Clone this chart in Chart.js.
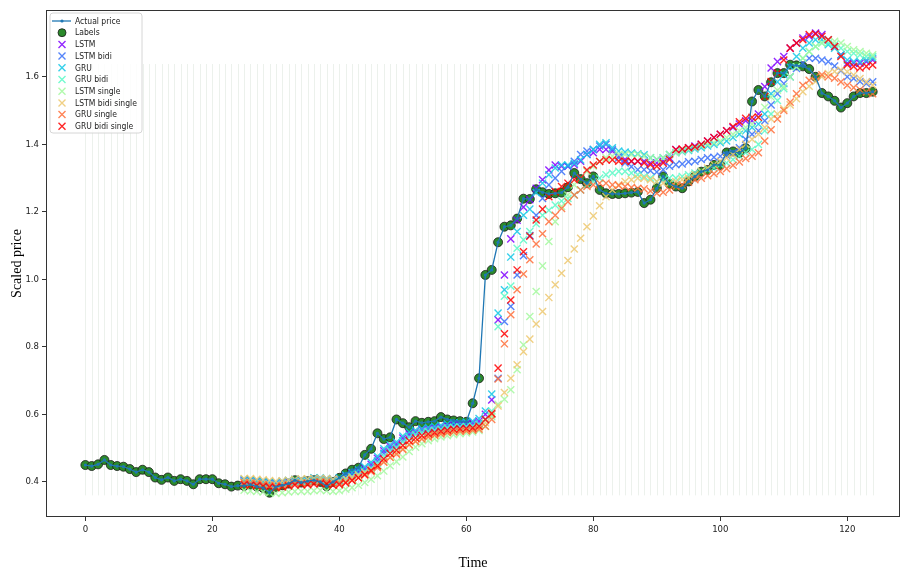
<!DOCTYPE html>
<html>
<head>
<meta charset="utf-8">
<script src="https://cdn.jsdelivr.net/npm/chart.js@4/dist/chart.umd.min.js"></script>
<style>
  html, body { margin: 0; padding: 0; background: #ffffff; overflow: hidden; }
  #wrap { width: 902px; height: 569px; }
  canvas { display: block; }
</style>
</head>
<body>
<div id="wrap"><canvas id="c" width="902" height="569"></canvas></div>
<script>
// ---------------- DATA ----------------
const ACTUAL_START = 0;
const PRED_START = 25;

const seriesNames = ["Actual price", "Labels", "LSTM", "LSTM bidi", "GRU", "GRU bidi",
  "LSTM single", "LSTM bidi single", "GRU single", "GRU bidi single"];

const xTicks = [0, 20, 40, 60, 80, 100, 120];
const yTicks = [0.4, 0.6, 0.8, 1.0, 1.2, 1.4, 1.6];

// actual price, t = 0..124
const actualPrice = [
  0.450, 0.447, 0.452, 0.465, 0.450, 0.447, 0.445, 0.438, 0.429, 0.436,
  0.429, 0.413, 0.406, 0.413, 0.403, 0.408, 0.403, 0.393, 0.408, 0.408,
  0.408, 0.396, 0.393, 0.386, 0.389,
  0.388, 0.392, 0.386, 0.382, 0.368, 0.385, 0.390, 0.395, 0.405, 0.398,
  0.402, 0.405, 0.400, 0.387, 0.400, 0.412,
  0.425, 0.436, 0.442, 0.480, 0.498, 0.544, 0.527, 0.532, 0.585, 0.574,
  0.562, 0.580, 0.575, 0.578, 0.580, 0.592, 0.585, 0.582, 0.580, 0.578,
  0.633, 0.707,
  1.013, 1.028, 1.110, 1.156, 1.160, 1.180, 1.239, 1.238, 1.267, 1.258,
  1.253, 1.255, 1.257, 1.273, 1.315, 1.297, 1.285, 1.305,
  1.265, 1.255, 1.253, 1.253, 1.255, 1.257, 1.259, 1.226, 1.236, 1.270,
  1.305, 1.283, 1.275, 1.270, 1.290, 1.305, 1.319, 1.324, 1.339, 1.339,
  1.376, 1.379, 1.374, 1.389, 1.527, 1.561,
  1.542, 1.584, 1.611, 1.611, 1.636, 1.634, 1.631, 1.623, 1.600, 1.552,
  1.542, 1.529, 1.509, 1.522, 1.542, 1.552, 1.552, 1.556
];

// predictions, t = 25..124
const lstm = [
  0.405, 0.405, 0.403, 0.400, 0.398, 0.396, 0.400, 0.402, 0.405, 0.405,
  0.405, 0.410, 0.410, 0.408, 0.405, 0.410, 0.418, 0.425, 0.432, 0.440,
  0.452, 0.470, 0.492, 0.505, 0.512, 0.530, 0.542, 0.548, 0.555, 0.558,
  0.560, 0.563, 0.568, 0.570, 0.570, 0.572, 0.575, 0.580, 0.600, 0.643,
  0.880, 1.013, 1.120, 1.175, 1.214, 1.236, 1.270, 1.295, 1.324, 1.339,
  1.335, 1.335, 1.340, 1.350, 1.370, 1.375, 1.385, 1.385, 1.380, 1.365,
  1.355, 1.350, 1.350, 1.350, 1.345, 1.345, 1.350, 1.360, 1.385, 1.385,
  1.390, 1.395, 1.400, 1.410, 1.420, 1.430, 1.440, 1.450, 1.460, 1.470,
  1.470, 1.490, 1.571, 1.626, 1.645, 1.660, 1.685, 1.700, 1.715, 1.720,
  1.730, 1.725, 1.710, 1.690, 1.665, 1.640, 1.640, 1.640, 1.645, 1.650
];
const lstmBidi = [
  0.402, 0.400, 0.398, 0.396, 0.393, 0.390, 0.394, 0.397, 0.400, 0.400,
  0.402, 0.405, 0.406, 0.404, 0.400, 0.404, 0.410, 0.418, 0.426, 0.434,
  0.445, 0.462, 0.485, 0.498, 0.506, 0.522, 0.535, 0.542, 0.548, 0.552,
  0.555, 0.558, 0.562, 0.565, 0.565, 0.566, 0.568, 0.572, 0.585, 0.600,
  0.707, 0.875, 0.920, 1.013, 1.070, 1.130, 1.190, 1.240, 1.280, 1.300,
  1.320, 1.335, 1.350, 1.370, 1.380, 1.385, 1.395, 1.400, 1.385, 1.360,
  1.345, 1.334, 1.325, 1.325, 1.322, 1.318, 1.325, 1.335, 1.340, 1.342,
  1.348, 1.350, 1.355, 1.360, 1.362, 1.365, 1.368, 1.375, 1.390, 1.415,
  1.430, 1.440, 1.470, 1.517, 1.550, 1.580, 1.600, 1.625, 1.640, 1.655,
  1.655, 1.650, 1.645, 1.632, 1.618, 1.600, 1.595, 1.586, 1.580, 1.585
];
const gru = [
  0.408, 0.406, 0.404, 0.402, 0.400, 0.398, 0.402, 0.405, 0.408, 0.408,
  0.408, 0.412, 0.412, 0.410, 0.408, 0.412, 0.420, 0.428, 0.436, 0.445,
  0.458, 0.476, 0.498, 0.510, 0.518, 0.536, 0.548, 0.553, 0.558, 0.562,
  0.565, 0.568, 0.572, 0.575, 0.575, 0.577, 0.580, 0.588, 0.610, 0.660,
  0.900, 0.969, 1.066, 1.142, 1.190, 1.208, 1.257, 1.285, 1.310, 1.330,
  1.339, 1.339, 1.344, 1.354, 1.370, 1.385, 1.400, 1.405, 1.390, 1.380,
  1.377, 1.374, 1.372, 1.369, 1.360, 1.355, 1.360, 1.370, 1.375, 1.378,
  1.382, 1.386, 1.390, 1.395, 1.400, 1.405, 1.410, 1.420, 1.430, 1.440,
  1.450, 1.460, 1.490, 1.550, 1.585, 1.606, 1.630, 1.660, 1.685, 1.700,
  1.710, 1.710, 1.695, 1.685, 1.665, 1.650, 1.645, 1.645, 1.650, 1.655
];
const gruBidi = [
  0.400, 0.399, 0.397, 0.395, 0.392, 0.390, 0.393, 0.396, 0.400, 0.401,
  0.401, 0.404, 0.405, 0.403, 0.400, 0.402, 0.408, 0.415, 0.422, 0.430,
  0.440, 0.455, 0.476, 0.492, 0.502, 0.518, 0.532, 0.540, 0.546, 0.550,
  0.553, 0.556, 0.560, 0.562, 0.563, 0.564, 0.565, 0.570, 0.585, 0.610,
  0.860, 0.950, 0.980, 1.092, 1.117, 1.142, 1.165, 1.190, 1.205, 1.220,
  1.232, 1.240, 1.250, 1.265, 1.280, 1.290, 1.300, 1.310, 1.315, 1.320,
  1.320, 1.315, 1.310, 1.305, 1.300, 1.290, 1.295, 1.300, 1.300, 1.305,
  1.310, 1.315, 1.320, 1.325, 1.330, 1.340, 1.345, 1.355, 1.365, 1.375,
  1.385, 1.400, 1.440, 1.490, 1.530, 1.565, 1.600, 1.630, 1.655, 1.675,
  1.690, 1.700, 1.700, 1.695, 1.685, 1.675, 1.670, 1.665, 1.660, 1.660
];
const lstmSingle = [
  0.375, 0.373, 0.372, 0.370, 0.368, 0.366, 0.368, 0.370, 0.372, 0.372,
  0.372, 0.374, 0.375, 0.374, 0.372, 0.374, 0.378, 0.383, 0.390, 0.398,
  0.408, 0.418, 0.432, 0.448, 0.460, 0.474, 0.490, 0.503, 0.513, 0.522,
  0.528, 0.533, 0.537, 0.540, 0.543, 0.545, 0.548, 0.552, 0.565, 0.593,
  0.630, 0.645, 0.673, 0.732, 0.806, 0.890, 0.964, 1.040, 1.112, 1.171,
  1.216, 1.250, 1.280, 1.300, 1.320, 1.335, 1.350, 1.360, 1.365, 1.370,
  1.370, 1.370, 1.370, 1.365, 1.360, 1.355, 1.360, 1.370, 1.375, 1.380,
  1.385, 1.390, 1.395, 1.400, 1.405, 1.410, 1.420, 1.430, 1.440, 1.450,
  1.460, 1.480, 1.510, 1.540, 1.560, 1.571, 1.600, 1.630, 1.655, 1.675,
  1.690, 1.700, 1.710, 1.705, 1.700, 1.690, 1.680, 1.675, 1.670, 1.665
];
const lstmBidiSingle = [
  0.410, 0.410, 0.408, 0.406, 0.404, 0.402, 0.403, 0.405, 0.408, 0.409,
  0.409, 0.410, 0.411, 0.410, 0.408, 0.408, 0.410, 0.414, 0.420, 0.428,
  0.436, 0.446, 0.460, 0.474, 0.486, 0.498, 0.510, 0.520, 0.528, 0.535,
  0.540, 0.545, 0.548, 0.550, 0.552, 0.553, 0.555, 0.560, 0.575, 0.600,
  0.625, 0.665, 0.707, 0.747, 0.786, 0.823, 0.868, 0.905, 0.946, 0.984,
  1.018, 1.056, 1.090, 1.122, 1.156, 1.188, 1.218, 1.245, 1.265, 1.280,
  1.290, 1.295, 1.300, 1.300, 1.295, 1.290, 1.285, 1.285, 1.290, 1.295,
  1.300, 1.310, 1.320, 1.330, 1.340, 1.350, 1.360, 1.370, 1.385, 1.400,
  1.415, 1.430, 1.450, 1.475, 1.490, 1.505, 1.517, 1.535, 1.556, 1.572,
  1.586, 1.600, 1.610, 1.616, 1.620, 1.615, 1.605, 1.595, 1.585, 1.575
];
const gruSingle = [
  0.398, 0.397, 0.395, 0.393, 0.390, 0.388, 0.390, 0.393, 0.396, 0.397,
  0.397, 0.400, 0.401, 0.400, 0.396, 0.397, 0.400, 0.406, 0.412, 0.420,
  0.430, 0.442, 0.458, 0.472, 0.482, 0.496, 0.510, 0.520, 0.527, 0.533,
  0.538, 0.542, 0.546, 0.548, 0.550, 0.551, 0.553, 0.556, 0.565, 0.585,
  0.705, 0.809, 0.895, 0.969, 1.016, 1.058, 1.105, 1.135, 1.171, 1.190,
  1.210, 1.230, 1.250, 1.265, 1.275, 1.280, 1.285, 1.285, 1.280, 1.278,
  1.275, 1.272, 1.270, 1.268, 1.262, 1.255, 1.258, 1.265, 1.275, 1.280,
  1.288, 1.295, 1.300, 1.307, 1.313, 1.320, 1.328, 1.338, 1.348, 1.358,
  1.365, 1.375, 1.410, 1.443, 1.475, 1.500, 1.525, 1.550, 1.575, 1.590,
  1.600, 1.606, 1.600, 1.596, 1.585, 1.575, 1.568, 1.562, 1.555, 1.550
];
const gruBidiSingle = [
  0.392, 0.390, 0.389, 0.387, 0.385, 0.383, 0.385, 0.388, 0.391, 0.392,
  0.392, 0.394, 0.395, 0.394, 0.390, 0.392, 0.397, 0.404, 0.412, 0.422,
  0.434, 0.448, 0.468, 0.484, 0.494, 0.508, 0.522, 0.530, 0.537, 0.542,
  0.546, 0.550, 0.553, 0.556, 0.557, 0.558, 0.560, 0.565, 0.585, 0.603,
  0.737, 0.839, 0.939, 1.028, 1.082, 1.128, 1.176, 1.208, 1.245, 1.260,
  1.275, 1.285, 1.295, 1.300, 1.324, 1.339, 1.349, 1.354, 1.354, 1.350,
  1.350, 1.350, 1.350, 1.345, 1.340, 1.335, 1.345, 1.355, 1.384, 1.386,
  1.390, 1.393, 1.400, 1.410, 1.420, 1.430, 1.440, 1.453, 1.467, 1.477,
  1.480, 1.480, 1.542, 1.586, 1.611, 1.650, 1.685, 1.700, 1.710, 1.725,
  1.727, 1.720, 1.710, 1.690, 1.660, 1.636, 1.631, 1.626, 1.631, 1.635
];

// ---------------- STYLE ----------------
const predColors = ["#8000ff", "#376ff9", "#12c8e6", "#5bf9c7", "#a4f99f", "#edc86f", "#ff6f39", "#ff0000"];
const predSeries = [lstm, lstmBidi, gru, gruBidi, lstmSingle, lstmBidiSingle, gruSingle, gruBidiSingle];
const TICK_FONT = '"DejaVu Sans Condensed", "Liberation Sans Narrow", "DejaVu Sans", sans-serif';

function toPoints(arr, start) { return arr.map((v, i) => ({ x: start + i, y: v })); }
function withAlpha(hex, a) {
  const n = parseInt(hex.slice(1), 16);
  return `rgba(${(n >> 16) & 255},${(n >> 8) & 255},${n & 255},${a})`;
}

const datasets = [];
datasets.push({
  label: seriesNames[0], data: toPoints(actualPrice, ACTUAL_START), showLine: true,
  borderColor: '#1f77b4', backgroundColor: '#1f77b4', borderWidth: 1.3,
  pointRadius: 1.6, pointBorderWidth: 0, pointBackgroundColor: '#1f77b4', tension: 0, order: 0,
  kind: 'line'
});
datasets.push({
  label: seriesNames[1], data: toPoints(actualPrice, ACTUAL_START), showLine: false,
  pointStyle: 'circle', pointRadius: 4.5, pointBackgroundColor: '#2b8a2b',
  pointBorderColor: '#1a1a1a', pointBorderWidth: 0.8, order: 20, kind: 'circle'
});
predSeries.forEach((arr, k) => {
  datasets.push({
    label: seriesNames[k + 2], data: toPoints(arr, PRED_START), showLine: false,
    pointStyle: 'crossRot', pointRadius: 5, pointBorderWidth: 1.4,
    pointBorderColor: withAlpha(predColors[k], 0.85), pointBackgroundColor: withAlpha(predColors[k], 0.85),
    borderColor: withAlpha(predColors[k], 0.85), order: 10 - k, kind: 'x'
  });
});

// faint vertical guides across each time step
const GUIDE_TOP = 1.638, GUIDE_BOTTOM = 0.36;
const guidesPlugin = {
  id: 'guides',
  beforeDatasetsDraw(chart) {
    const { ctx, scales: { x, y } } = chart;
    ctx.save();
    ctx.strokeStyle = 'rgba(170,190,170,0.22)';
    ctx.lineWidth = 1;
    ctx.beginPath();
    for (let i = 0; i < actualPrice.length; i++) {
      const px = Math.round(x.getPixelForValue(ACTUAL_START + i)) + 0.5;
      ctx.moveTo(px, y.getPixelForValue(GUIDE_TOP));
      ctx.lineTo(px, y.getPixelForValue(GUIDE_BOTTOM));
    }
    ctx.stroke();
    ctx.restore();
  }
};

const framePlugin = {
  id: 'frame',
  afterDatasetsDraw(chart) {
    const { ctx, chartArea: a } = chart;
    ctx.save();
    ctx.strokeStyle = '#333333';
    ctx.lineWidth = 1;
    ctx.strokeRect(Math.round(a.left) + 0.5, Math.round(a.top) + 0.5,
      Math.round(a.right - a.left) - 1, Math.round(a.bottom - a.top) - 1);
    ctx.restore();
  }
};

const legendPlugin = {
  id: 'boxLegend',
  afterDraw(chart) {
    const ctx = chart.ctx;
    const bx = 50, by = 13, bw = 92, bh = 120, r = 3;
    ctx.save();
    ctx.beginPath();
    ctx.moveTo(bx + r, by);
    ctx.arcTo(bx + bw, by, bx + bw, by + bh, r);
    ctx.arcTo(bx + bw, by + bh, bx, by + bh, r);
    ctx.arcTo(bx, by + bh, bx, by, r);
    ctx.arcTo(bx, by, bx + bw, by, r);
    ctx.closePath();
    ctx.fillStyle = 'rgba(255,255,255,0.85)';
    ctx.fill();
    ctx.strokeStyle = '#d6d6d6';
    ctx.lineWidth = 1;
    ctx.stroke();

    const mx = 62, tx = 75, y0 = 21, dy = 11.7;
    ctx.font = '8.5px ' + TICK_FONT;
    ctx.textBaseline = 'middle';
    ctx.textAlign = 'left';
    chart.data.datasets.forEach((ds, k) => {
      const yy = y0 + k * dy;
      if (ds.kind === 'line') {
        ctx.strokeStyle = ds.borderColor; ctx.lineWidth = 1.3;
        ctx.beginPath(); ctx.moveTo(52, yy); ctx.lineTo(71, yy); ctx.stroke();
        ctx.fillStyle = ds.borderColor;
        ctx.beginPath(); ctx.arc(mx, yy, 1.6, 0, Math.PI * 2); ctx.fill();
      } else if (ds.kind === 'circle') {
        ctx.fillStyle = ds.pointBackgroundColor; ctx.strokeStyle = ds.pointBorderColor; ctx.lineWidth = 0.8;
        ctx.beginPath(); ctx.arc(mx, yy, 4, 0, Math.PI * 2); ctx.fill(); ctx.stroke();
      } else {
        const h = 3.5;
        ctx.strokeStyle = ds.pointBorderColor; ctx.lineWidth = 1.4;
        ctx.beginPath();
        ctx.moveTo(mx - h, yy - h); ctx.lineTo(mx + h, yy + h);
        ctx.moveTo(mx - h, yy + h); ctx.lineTo(mx + h, yy - h);
        ctx.stroke();
      }
      ctx.fillStyle = '#222222';
      ctx.fillText(ds.label, tx, yy + 0.5);
    });
    ctx.restore();
  }
};

new Chart(document.getElementById('c'), {
  type: 'line',
  data: { datasets },
  options: {
    responsive: false,
    animation: false,
    devicePixelRatio: 1,
    layout: { autoPadding: false, padding: { left: 0, right: 2, top: 10, bottom: 0 } },
    plugins: { legend: { display: false }, tooltip: { enabled: false } },
    scales: {
      x: {
        type: 'linear', min: -6.2, max: 128.3,
        afterFit(s) { s.height = 52; },
        afterBuildTicks(s) { s.ticks = xTicks.map(v => ({ value: v })); },
        ticks: { font: { family: TICK_FONT, size: 9.5 }, color: '#222', padding: 3, maxRotation: 0,
          callback: v => String(v) },
        grid: { display: true, drawOnChartArea: false, drawTicks: true, tickLength: 4, tickColor: '#333', tickWidth: 1 },
        border: { display: false },
        title: { display: true, text: 'Time', color: '#000',
          font: { family: '"Liberation Serif", "DejaVu Serif", serif', size: 14, lineHeight: 0.8 },
          padding: { top: 0, bottom: 0 } }
      },
      y: {
        type: 'linear', min: 0.296, max: 1.798,
        afterFit(s) { s.width = 46; },
        afterBuildTicks(s) { s.ticks = yTicks.map(v => ({ value: v })); },
        ticks: { font: { family: TICK_FONT, size: 9.5 }, color: '#222', padding: 3,
          callback: v => Number(v).toFixed(1) },
        grid: { display: true, drawOnChartArea: false, drawTicks: true, tickLength: 4, tickColor: '#333', tickWidth: 1 },
        border: { display: false },
        title: { display: true, text: 'Scaled price', color: '#000',
          font: { family: '"Liberation Serif", "DejaVu Serif", serif', size: 14, lineHeight: 1 },
          padding: { top: 10, bottom: 0 } }
      }
    }
  },
  plugins: [guidesPlugin, framePlugin, legendPlugin]
});
</script>
</body>
</html>
